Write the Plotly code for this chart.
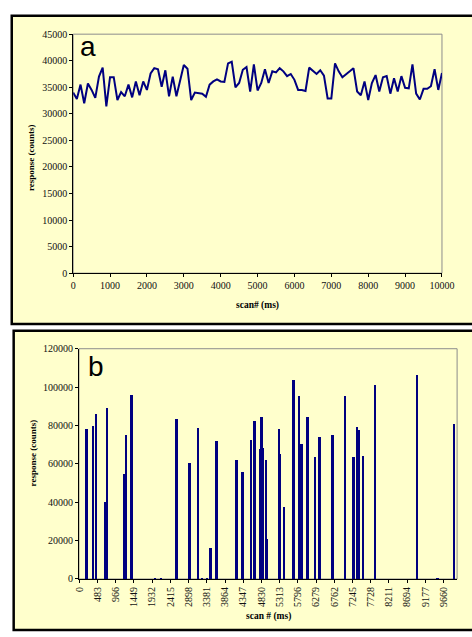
import plotly.graph_objects as go

# ---------------- data ----------------
scan_a = [0, 100, 200, 300, 400, 500, 600, 700, 800, 900,
          1000, 1100, 1200, 1300, 1400, 1500, 1600, 1700, 1800, 1900,
          2000, 2100, 2200, 2300, 2400, 2500, 2600, 2700, 2800, 2900,
          3000, 3100, 3200, 3300, 3400, 3500, 3600, 3700, 3800, 3900,
          4000, 4100, 4200, 4300, 4400, 4500, 4600, 4700, 4800, 4900,
          5000, 5100, 5200, 5300, 5400, 5500, 5600, 5700, 5800, 5900,
          6000, 6100, 6200, 6300, 6400, 6500, 6600, 6700, 6800, 6900,
          7000, 7100, 7200, 7300, 7400, 7500, 7600, 7700, 7800, 7900,
          8000, 8100, 8200, 8300, 8400, 8500, 8600, 8700, 8800, 8900,
          9000, 9100, 9200, 9300, 9400, 9500, 9600, 9700, 9800, 9900,
          10000]
response_a = [34000, 32800, 35500, 32000, 35700, 34500, 33000, 37000, 38700, 31400,
              36900, 36900, 32600, 34100, 33300, 35500, 33100, 36100, 33500, 36100,
              34500, 37600, 38600, 38400, 35100, 38200, 33300, 37000, 33300, 36400,
              39200, 38500, 32600, 34000, 33900, 33800, 33200, 35500, 36100, 36500,
              36100, 36000, 39500, 39800, 35000, 35800, 38300, 38800, 34200, 39300,
              34400, 35800, 38400, 35800, 38000, 37800, 38600, 38000, 37100, 37500,
              36400, 34500, 34500, 34300, 38700, 38000, 37500, 38200, 37200, 32900,
              32900, 39500, 38000, 36900, 37400, 38000, 38600, 34200, 33500, 36100,
              32600, 35800, 37300, 34200, 36900, 37100, 33800, 36700, 34200, 37100,
              34900, 34800, 39300, 33800, 32700, 34700, 34700, 35200, 38400, 34500,
              37700]

scan_b = [184, 368, 437, 690, 736, 1196, 1242, 1380, 2001, 2162,
          2576, 2921, 3151, 3243, 3381, 3473, 3634, 4163, 4324, 4554,
          4646, 4807, 4830, 4876, 4945, 4968, 5290, 5313, 5428, 5681,
          5819, 5888, 6049, 6256, 6371, 6716, 7038, 7268, 7360, 7406,
          7521, 7843, 8947, 9499, 9936]
response_b = [78500, 79800, 86300, 40500, 89300, 54900, 75300, 96100, 700, 700,
              83500, 60800, 78900, 600, 600, 16400, 72000, 62000, 55800, 72600,
              82600, 68000, 84800, 68200, 62100, 21000, 78500, 65500, 37800, 104000,
              95300, 70400, 84400, 63500, 74400, 75000, 95300, 63900, 79400, 78000,
              64300, 101200, 106400, 800, 80800]

tick_a_x = [0, 1000, 2000, 3000, 4000, 5000, 6000, 7000, 8000, 9000, 10000]
tick_a_y = [0, 5000, 10000, 15000, 20000, 25000, 30000, 35000, 40000, 45000]
tick_b_x = [0, 483, 966, 1449, 1932, 2415, 2898, 3381, 3864, 4347, 4830,
            5313, 5796, 6279, 6762, 7245, 7728, 8211, 8694, 9177, 9660]
tick_b_y = [0, 20000, 40000, 60000, 80000, 100000, 120000]

# ---------------- layout helpers ----------------
W, H = 472, 637
def px(x):
    return x / W
def py(y):
    return 1 - y / H

NAVY = "#000080"
BG = "#FFFFCC"
SERIF = "Liberation Serif, Times New Roman, serif"
SANS = "Liberation Sans, Arial, sans-serif"

fig = go.Figure()
fig.add_trace(go.Scatter(x=scan_a, y=response_a, mode="lines",
                         line=dict(color=NAVY, width=2), xaxis="x", yaxis="y",
                         showlegend=False, hoverinfo="skip"))
fig.add_trace(go.Bar(x=scan_b, y=response_b, width=62, marker=dict(color=NAVY, line=dict(width=0)),
                     xaxis="x2", yaxis="y2", showlegend=False, hoverinfo="skip"))

# plot areas (pixel coords)
A = dict(x0=70.7, x1=453.3, y0=28.7, y1=272.3)
B = dict(x0=76.7, x1=469.0, y0=349.3, y1=584.0)

tickfont = dict(family=SERIF, size=10, color="#111111")
common_axis = dict(showgrid=False, zeroline=False, showline=True, linecolor="#000000",
                   linewidth=1, ticks="outside", ticklen=3, tickcolor="#000000",
                   tickfont=tickfont)

fig.update_layout(
    width=W, height=H,
    margin=dict(l=0, r=0, t=0, b=0),
    paper_bgcolor="white",
    plot_bgcolor="rgba(0,0,0,0)",
    bargap=0,
    xaxis=dict(domain=[px(A["x0"]), px(A["x1"])], range=[0, 10000],
               tickvals=tick_a_x, ticktext=[str(v) for v in tick_a_x],
               anchor="y", **common_axis),
    yaxis=dict(domain=[py(A["y1"]), py(A["y0"])], range=[0, 45000],
               tickvals=tick_a_y, ticktext=[str(v) for v in tick_a_y],
               anchor="x", **common_axis),
    xaxis2=dict(domain=[px(B["x0"]), px(B["x1"])], range=[-11.5, 10020],
                tickvals=tick_b_x, ticktext=[str(v) for v in tick_b_x],
                tickangle=-90, anchor="y2", **common_axis),
    yaxis2=dict(domain=[py(B["y1"]), py(B["y0"])], range=[0, 120000],
                tickvals=tick_b_y, ticktext=[str(v) for v in tick_b_y],
                anchor="x2", **common_axis),
)

shapes = []
# outer panels
shapes.append(dict(type="rect", xref="paper", yref="paper",
                   x0=px(7), x1=px(490), y0=py(324), y1=py(10),
                   fillcolor=BG, line=dict(color="black", width=2.5), layer="below"))
shapes.append(dict(type="rect", xref="paper", yref="paper",
                   x0=px(9), x1=px(490), y0=py(636), y1=py(331),
                   fillcolor=BG, line=dict(color="black", width=2.5), layer="below"))
# gray plot-area frames
for P in (A, B):
    shapes.append(dict(type="rect", xref="paper", yref="paper",
                       x0=px(P["x0"]), x1=px(P["x1"]), y0=py(P["y1"]), y1=py(P["y0"]),
                       fillcolor="rgba(0,0,0,0)", line=dict(color="#8c8c8c", width=1),
                       layer="below"))
fig.update_layout(shapes=shapes)

def ann(text, x, y, size, family, angle=0, xa="center", ya="middle"):
    return dict(text=text, x=px(x), y=py(y), xref="paper", yref="paper",
                xanchor=xa, yanchor=ya, textangle=angle, showarrow=False,
                font=dict(family=family, size=size, color="black"))

annotations = [
    ann("a", 76, 59, 28, SANS, xa="left", ya="bottom"),
    ann("b", 84, 385, 28, SANS, xa="left", ya="bottom"),
    ann("<b>response (counts)</b>", 27, 155, 9, SERIF, angle=-90),
    ann("<b>scan# (ms)</b>", 262, 305, 9.5, SERIF),
    ann("<b>response (counts)</b>", 29, 455, 9, SERIF, angle=-90),
    ann("<b>scan # (ms)</b>", 273, 622, 9.5, SERIF),
]
fig.update_layout(annotations=annotations)

fig.write_html("out.html", config={"displayModeBar": False},
               post_script="document.body.style.margin='0';document.body.style.overflow='hidden';")
